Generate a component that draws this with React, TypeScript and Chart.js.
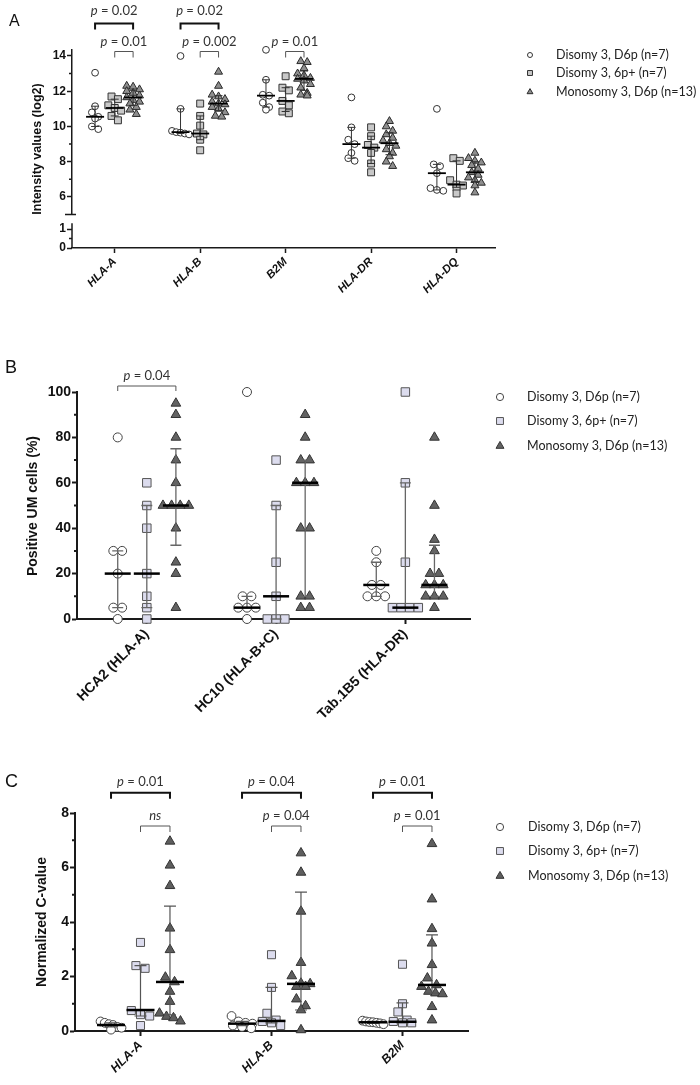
import React, { useEffect, useRef } from 'react';
import { Chart, registerables } from 'chart.js';

Chart.register(...registerables);

const LEGEND_LABELS = ['Disomy 3, D6p (n=7)', 'Disomy 3, 6p+ (n=7)', 'Monosomy 3, D6p (n=13)'];

// ---------------- Panel A : intensity values (log2) ----------------
const A_CATEGORIES = ['HLA-A', 'HLA-B', 'B2M', 'HLA-DR', 'HLA-DQ'];
const A_TICKS = [6, 8, 10, 12, 14];
const A_MINOR = [7, 9, 11, 13];
const A_LOW_TICKS = [0, 1];
const A_D6P = [
  [13.05, 11.15, 10.8, 10.55, 10.45, 10.0, 9.85],
  [14.0, 11.0, 9.75, 9.68, 9.65, 9.6, 9.55],
  [14.35, 12.65, 11.8, 11.75, 11.35, 11.1, 10.95],
  [11.65, 9.95, 9.25, 9.0, 8.5, 8.2, 8.05],
  [11.0, 7.85, 7.75, 7.35, 6.5, 6.4, 6.35],
];
const A_6PPLUS = [
  [11.7, 11.55, 11.2, 11.05, 10.9, 10.6, 10.35],
  [11.3, 10.6, 10.05, 9.6, 9.55, 9.25, 8.65],
  [12.85, 12.2, 12.05, 11.45, 11.2, 10.85, 10.75],
  [9.95, 9.45, 8.95, 8.8, 8.5, 7.9, 7.4],
  [8.2, 8.05, 6.95, 6.7, 6.65, 6.55, 6.2],
];
const A_MONO = [
  [12.3, 12.25, 12.1, 12.0, 11.9, 11.75, 11.65, 11.5, 11.4, 11.3, 11.1, 10.95, 10.7],
  [13.1, 12.3, 11.8, 11.7, 11.55, 11.4, 11.3, 11.25, 11.1, 11.0, 10.8, 10.6, 10.55],
  [13.7, 13.65, 13.3, 13.0, 12.9, 12.75, 12.7, 12.6, 12.4, 12.2, 11.9, 11.8, 11.75],
  [10.3, 10.0, 9.75, 9.55, 9.35, 9.2, 9.05, 8.9, 8.7, 8.5, 8.3, 8.0, 7.75],
  [8.5, 8.2, 8.05, 7.95, 7.8, 7.6, 7.4, 7.25, 7.1, 6.95, 6.8, 6.65, 6.25],
];
const A_PVALUES = [
  { category: 0, from: 0, to: 2, level: 0, label: 'p = 0.02' },
  { category: 0, from: 1, to: 2, level: 1, label: 'p = 0.01' },
  { category: 1, from: 0, to: 2, level: 0, label: 'p = 0.02' },
  { category: 1, from: 1, to: 2, level: 1, label: 'p = 0.002' },
  { category: 2, from: 1, to: 2, level: 1, label: 'p = 0.01' },
];

// ---------------- Panel B : positive UM cells (%) ----------------
const B_CATEGORIES = ['HCA2 (HLA-A)', 'HC10 (HLA-B+C)', 'Tab.1B5 (HLA-DR)'];
const B_TICKS = [0, 20, 40, 60, 80, 100];
const B_MINOR = [10, 30, 50, 70, 90];
const B_D6P = [
  [80, 30, 30, 20, 5, 5, 0],
  [100, 10, 10, 5, 5, 5, 0],
  [30, 25, 15, 15, 10, 10, 10],
];
const B_6PPLUS = [
  [60, 50, 40, 20, 10, 5, 0],
  [70, 50, 25, 10, 0, 0, 0],
  [100, 60, 25, 5, 5, 5, 5],
];
const B_MONO = [
  [95, 90, 80, 70, 60, 50, 50, 50, 50, 40, 25, 20, 5],
  [90, 80, 70, 70, 60, 60, 60, 40, 40, 10, 10, 5, 5],
  [80, 50, 35, 30, 20, 20, 15, 15, 15, 10, 10, 10, 5],
];
const B_PVALUES = [{ category: 0, from: 0, to: 2, level: 0, label: 'p = 0.04' }];

// ---------------- Panel C : normalized C-value ----------------
const C_CATEGORIES = ['HLA-A', 'HLA-B', 'B2M'];
const C_TICKS = [0, 2, 4, 6, 8];
const C_MINOR = [1, 3, 5, 7];
const C_D6P = [
  [0.35, 0.3, 0.25, 0.22, 0.15, 0.12, 0.05],
  [0.55, 0.35, 0.3, 0.27, 0.2, 0.15, 0.1],
  [0.38, 0.35, 0.33, 0.32, 0.3, 0.28, 0.25],
];
const C_6PPLUS = [
  [3.25, 2.4, 2.3, 0.75, 0.6, 0.55, 0.2],
  [2.8, 1.6, 0.65, 0.4, 0.35, 0.3, 0.2],
  [2.45, 1.0, 0.7, 0.4, 0.35, 0.3, 0.3],
];
const C_MONO = [
  [6.96, 6.08, 5.33, 3.77, 2.98, 1.97, 1.8, 1.45, 1.08, 0.65, 0.53, 0.48, 0.36],
  [6.53, 5.82, 4.39, 2.51, 2.02, 1.75, 1.73, 1.63, 1.63, 1.17, 0.92, 0.77, 0.04],
  [6.87, 4.84, 3.75, 3.22, 2.43, 1.94, 1.69, 1.63, 1.45, 1.39, 1.36, 0.89, 0.4],
];
// median and interquartile bars [series][category]
const C_MEDIAN = [[0.22, 0.27, 0.32], [0.77, 0.37, 0.34], [1.8, 1.73, 1.69]];
const C_Q1 = [[0.15, 0.2, 0.28], [0.55, 0.3, 0.3], [0.59, 0.77, 1.39]];
const C_Q3 = [[0.3, 0.35, 0.35], [2.4, 1.6, 1.03], [4.58, 5.1, 3.53]];
const C_PVALUES = [
  { category: 0, from: 0, to: 2, level: 0, label: 'p = 0.01' },
  { category: 0, from: 1, to: 2, level: 1, label: 'ns' },
  { category: 1, from: 0, to: 2, level: 0, label: 'p = 0.04' },
  { category: 1, from: 1, to: 2, level: 1, label: 'p = 0.04' },
  { category: 2, from: 0, to: 2, level: 0, label: 'p = 0.01' },
  { category: 2, from: 1, to: 2, level: 1, label: 'p = 0.01' },
];

const SANS = '"Liberation Sans", Arial, sans-serif';
const TEXT = 'Lato, "Open Sans", sans-serif';

function quartile(vals: number[], p: number) {
  const s = [...vals].sort((a, b) => a - b);
  const n = s.length;
  const pos = p * (n + 1);
  if (pos <= 1) return s[0];
  if (pos >= n) return s[n - 1];
  const lo = Math.floor(pos);
  return s[lo - 1] + (pos - lo) * (s[lo] - s[lo - 1]);
}

function summarize(series: number[][][]) {
  return {
    med: series.map((ser) => ser.map((v) => quartile(v, 0.5))),
    q1: series.map((ser) => ser.map((v) => quartile(v, 0.25))),
    q3: series.map((ser) => ser.map((v) => quartile(v, 0.75))),
  };
}

function swarmOffsets(vals: number[], tol: number, step: number, maxSpread: number) {
  const idx = vals.map((_, i) => i).sort((a, b) => vals[b] - vals[a]);
  const out = new Array(vals.length).fill(0);
  let row: number[] = [];
  const flush = () => {
    const m = row.length;
    const st = m > 1 ? Math.min(step, maxSpread / (m - 1)) : 0;
    row.forEach((id, j) => {
      out[id] = (j - (m - 1) / 2) * st;
    });
    row = [];
  };
  idx.forEach((id) => {
    if (row.length && Math.abs(vals[row[0]] - vals[id]) >= tol) flush();
    row.push(id);
  });
  flush();
  return out;
}

type Sym = { style: 'circle' | 'rect' | 'triangle'; r: number; bg: string; border: string; bw: number };

function drawSymbol(ctx: CanvasRenderingContext2D, st: Sym, x: number, y: number) {
  const r = st.r;
  ctx.save();
  ctx.beginPath();
  if (st.style === 'circle') {
    ctx.arc(x, y, r, 0, Math.PI * 2);
  } else if (st.style === 'rect') {
    const h = r * Math.SQRT1_2;
    ctx.rect(x - h, y - h, 2 * h, 2 * h);
  } else {
    let rad = 0;
    ctx.moveTo(x + Math.sin(rad) * r, y - Math.cos(rad) * r);
    rad += (2 * Math.PI) / 3;
    ctx.lineTo(x + Math.sin(rad) * r, y - Math.cos(rad) * r);
    rad += (2 * Math.PI) / 3;
    ctx.lineTo(x + Math.sin(rad) * r, y - Math.cos(rad) * r);
    ctx.closePath();
  }
  ctx.fillStyle = st.bg;
  ctx.fill();
  ctx.lineWidth = st.bw;
  ctx.strokeStyle = st.border;
  ctx.stroke();
  ctx.restore();
}

function drawPLabel(ctx: CanvasRenderingContext2D, label: string, cx: number, baseline: number, size: number) {
  ctx.save();
  ctx.fillStyle = '#333';
  ctx.textBaseline = 'alphabetic';
  const italic = `italic ${size}px ${TEXT}`;
  const normal = `${size}px ${TEXT}`;
  if (label.startsWith('p ')) {
    const head = 'p';
    const tail = label.slice(1);
    ctx.font = italic;
    const w1 = ctx.measureText(head).width;
    ctx.font = normal;
    const w2 = ctx.measureText(tail).width;
    const x = cx - (w1 + w2) / 2;
    ctx.textAlign = 'left';
    ctx.font = italic;
    ctx.fillText(head, x, baseline);
    ctx.font = normal;
    ctx.fillText(tail, x + w1, baseline);
  } else {
    ctx.font = italic;
    ctx.textAlign = 'center';
    ctx.fillText(label, cx, baseline);
  }
  ctx.restore();
}

type PanelDef = any;

const PANEL_A: PanelDef = {
  top: 0,
  height: 320,
  letter: 'A',
  letterFont: `16px ${SANS}`,
  letterPos: [9, 26],
  categories: A_CATEGORIES,
  series: [A_D6P, A_6PPLUS, A_MONO],
  summary: summarize([A_D6P, A_6PPLUS, A_MONO]),
  xRange: [-0.5, 4.45],
  yRange: [5, 14.34],
  yTicks: A_TICKS,
  yMinor: A_MINOR,
  low: { range: [0, 1.76], ticks: A_LOW_TICKS, minor: [0.5], segTop: 1.3, weightUp: 164.6, weightLow: 33.4 },
  area: { left: 72, right: 495, top: 50, bottom: 248 },
  axisWidth: 1.5,
  seriesOffset: [-0.23, 0, 0.215],
  symbols: [
    { style: 'circle', r: 3.4, bg: '#ffffff', border: '#333333', bw: 1 },
    { style: 'rect', r: 4.9, bg: '#c8c8c8', border: '#333333', bw: 1 },
    { style: 'triangle', r: 4.6, bg: '#8e8e8e', border: '#2a2a2a', bw: 1 },
  ],
  legendSymbols: [
    { style: 'circle', r: 2.5, bg: '#ffffff', border: '#333333', bw: 1 },
    { style: 'rect', r: 3.5, bg: '#c8c8c8', border: '#333333', bw: 1 },
    { style: 'triangle', r: 3.4, bg: '#8e8e8e', border: '#2a2a2a', bw: 1 },
  ],
  swarm: { tol: 0.3, step: 0.075, maxSpread: 0.2 },
  whisker: { color: '#333', width: 1, cap: 4, median: 9, medianWidth: 1.8 },
  tickFont: { family: SANS, size: 12, weight: 'bold' },
  xTickFont: { family: SANS, size: 11.5, weight: 'bold', style: 'italic' },
  yTitle: 'Intensity values (log2)',
  yTitleFont: `bold 12.5px ${SANS}`,
  yTitlePos: [38, 149],
  brackets: A_PVALUES,
  bracketY: [23.5, 51.5],
  bracketStrong: [true, false],
  bracketLeg: 6,
  pGap: [8.5, 5.5],
  pFontSize: 13,
  legend: { symX: 530, textX: 556, rows: [55, 73, 92], size: 12.5 },
};

const PANEL_B: PanelDef = {
  top: 320,
  height: 420,
  letter: 'B',
  letterFont: `18px ${SANS}`,
  letterPos: [5, 53],
  categories: B_CATEGORIES,
  series: [B_D6P, B_6PPLUS, B_MONO],
  summary: summarize([B_D6P, B_6PPLUS, B_MONO]),
  xRange: [-0.54, 2.5],
  yRange: [0, 100],
  yTicks: B_TICKS,
  yMinor: B_MINOR,
  area: { left: 77, right: 470, top: 72, bottom: 299 },
  axisWidth: 2,
  seriesOffset: [-0.225, 0, 0.225],
  symbols: [
    { style: 'circle', r: 4.5, bg: '#ffffff', border: '#444444', bw: 1 },
    { style: 'rect', r: 6, bg: '#dcdcee', border: '#555555', bw: 1 },
    { style: 'triangle', r: 5.6, bg: '#636363', border: '#333333', bw: 1 },
  ],
  legendSymbols: [
    { style: 'circle', r: 3.6, bg: '#ffffff', border: '#444444', bw: 1 },
    { style: 'rect', r: 4.9, bg: '#dcdcee', border: '#555555', bw: 1 },
    { style: 'triangle', r: 4.6, bg: '#636363', border: '#333333', bw: 1 },
  ],
  swarm: { tol: 4, step: 0.068, maxSpread: 0.2 },
  whisker: { color: '#666', width: 1.3, cap: 5.5, median: 13, medianWidth: 2.5 },
  tickFont: { family: SANS, size: 14, weight: 'bold' },
  xTickFont: { family: SANS, size: 14, weight: 'bold' },
  yTitle: 'Positive UM cells (%)',
  yTitleFont: `bold 14px ${SANS}`,
  yTitlePos: [33, 186],
  brackets: B_PVALUES,
  bracketY: [66],
  bracketStrong: [false],
  bracketLeg: 5,
  pGap: [6.5],
  pFontSize: 13,
  legend: { symX: 500, textX: 527, rows: [77, 101, 126], size: 12.5 },
};

const PANEL_C: PanelDef = {
  top: 690,
  height: 395,
  letter: 'C',
  letterFont: `18px ${SANS}`,
  letterPos: [5, 97],
  categories: C_CATEGORIES,
  series: [C_D6P, C_6PPLUS, C_MONO],
  summary: { med: C_MEDIAN, q1: C_Q1, q3: C_Q3 },
  xRange: [-0.5, 2.5],
  yRange: [0, 8],
  yTicks: C_TICKS,
  yMinor: C_MINOR,
  area: { left: 75, right: 468, top: 123, bottom: 341 },
  axisWidth: 2,
  seriesOffset: [-0.225, 0, 0.225],
  symbols: [
    { style: 'circle', r: 4.4, bg: '#ffffff', border: '#444444', bw: 1 },
    { style: 'rect', r: 5.7, bg: '#dcdcee', border: '#555555', bw: 1 },
    { style: 'triangle', r: 5.6, bg: '#5e5e5e', border: '#333333', bw: 1 },
  ],
  legendSymbols: [
    { style: 'circle', r: 3.6, bg: '#ffffff', border: '#444444', bw: 1 },
    { style: 'rect', r: 4.9, bg: '#dcdcee', border: '#555555', bw: 1 },
    { style: 'triangle', r: 4.6, bg: '#5e5e5e', border: '#333333', bw: 1 },
  ],
  swarm: { tol: 0.3, step: 0.07, maxSpread: 0.16 },
  whisker: { color: '#555', width: 1.2, cap: 6, median: 14, medianWidth: 2.5 },
  tickFont: { family: SANS, size: 14, weight: 'bold' },
  xTickFont: { family: SANS, size: 12.5, weight: 'bold', style: 'italic' },
  yTitle: 'Normalized C-value',
  yTitleFont: `bold 14px ${SANS}`,
  yTitlePos: [42, 232],
  brackets: C_PVALUES,
  bracketY: [102.7, 136],
  bracketStrong: [true, false],
  bracketLeg: 6,
  pGap: [7, 6],
  pFontSize: 13,
  legend: { symX: 500, textX: 528, rows: [137, 161, 186], size: 12.5 },
};

function decoPlugin(def: PanelDef) {
  return {
    id: 'deco',
    afterDatasetsDraw(chart: any) {
      const ctx = chart.ctx as CanvasRenderingContext2D;
      const xs = chart.scales.x;
      const ys = chart.scales.y;
      const w = def.whisker;
      ctx.save();
      def.series.forEach((ser: number[][], s: number) =>
        ser.forEach((_, c) => {
          const x = xs.getPixelForValue(c + def.seriesOffset[s]);
          const y1 = ys.getPixelForValue(def.summary.q1[s][c]);
          const y3 = ys.getPixelForValue(def.summary.q3[s][c]);
          const ym = ys.getPixelForValue(def.summary.med[s][c]);
          ctx.strokeStyle = w.color;
          ctx.lineWidth = w.width;
          ctx.beginPath();
          ctx.moveTo(x, y3);
          ctx.lineTo(x, y1);
          ctx.moveTo(x - w.cap, y3);
          ctx.lineTo(x + w.cap, y3);
          ctx.moveTo(x - w.cap, y1);
          ctx.lineTo(x + w.cap, y1);
          ctx.stroke();
          ctx.strokeStyle = '#000';
          ctx.lineWidth = w.medianWidth;
          ctx.beginPath();
          ctx.moveTo(x - w.median, ym);
          ctx.lineTo(x + w.median, ym);
          ctx.stroke();
        })
      );
      ctx.restore();
    },
    afterDraw(chart: any) {
      const ctx = chart.ctx as CanvasRenderingContext2D;
      const xs = chart.scales.x;
      const ys = chart.scales.y;
      const left = chart.chartArea.left;
      ctx.save();
      ctx.strokeStyle = '#1a1a1a';
      ctx.lineWidth = def.axisWidth;
      ctx.beginPath();
      def.yMinor.forEach((v: number) => {
        const y = ys.getPixelForValue(v);
        ctx.moveTo(left - 3, y);
        ctx.lineTo(left, y);
      });
      if (def.low) {
        const yl = chart.scales.yLow;
        def.low.minor.forEach((v: number) => {
          const y = yl.getPixelForValue(v);
          ctx.moveTo(left - 3, y);
          ctx.lineTo(left, y);
        });
        ctx.moveTo(left, yl.getPixelForValue(def.low.segTop));
        ctx.lineTo(left, yl.getPixelForValue(0));
        const yb = ys.getPixelForValue(def.yRange[0]);
        ctx.moveTo(left - 7, yb);
        ctx.lineTo(left + 4, yb);
      }
      ctx.stroke();
      ctx.restore();

      def.brackets.forEach((b: any) => {
        const x1 = xs.getPixelForValue(b.category + def.seriesOffset[b.from]);
        const x2 = xs.getPixelForValue(b.category + def.seriesOffset[b.to]);
        const y = def.bracketY[b.level];
        const strong = def.bracketStrong[b.level];
        ctx.save();
        ctx.strokeStyle = strong ? '#111' : '#555';
        ctx.lineWidth = strong ? 2 : 1;
        ctx.beginPath();
        ctx.moveTo(x1, y + def.bracketLeg);
        ctx.lineTo(x1, y);
        ctx.lineTo(x2, y);
        ctx.lineTo(x2, y + def.bracketLeg);
        ctx.stroke();
        ctx.restore();
        drawPLabel(ctx, b.label, (x1 + x2) / 2, y - def.pGap[b.level], def.pFontSize);
      });

      ctx.save();
      LEGEND_LABELS.forEach((label, s) => {
        const y = def.legend.rows[s];
        drawSymbol(ctx, def.legendSymbols[s], def.legend.symX, y);
        ctx.font = `${def.legend.size}px ${TEXT}`;
        ctx.fillStyle = '#222';
        ctx.textAlign = 'left';
        ctx.textBaseline = 'middle';
        ctx.fillText(label, def.legend.textX, y);
      });
      ctx.restore();

      ctx.save();
      ctx.translate(def.yTitlePos[0], def.yTitlePos[1]);
      ctx.rotate(-Math.PI / 2);
      ctx.font = def.yTitleFont;
      ctx.fillStyle = '#111';
      ctx.textAlign = 'center';
      ctx.textBaseline = 'middle';
      ctx.fillText(def.yTitle, 0, 0);
      ctx.restore();

      ctx.save();
      ctx.font = def.letterFont;
      ctx.fillStyle = '#111';
      ctx.textAlign = 'left';
      ctx.textBaseline = 'alphabetic';
      ctx.fillText(def.letter, def.letterPos[0], def.letterPos[1]);
      ctx.restore();
    },
  };
}

function buildConfig(def: PanelDef): any {
  const a = def.area;
  const xAxisH = def.height - a.bottom;
  const datasets = def.series.map((ser: number[][], s: number) => {
    const st = def.symbols[s];
    const data: { x: number; y: number }[] = [];
    ser.forEach((vals, c) => {
      const offs = swarmOffsets(vals, def.swarm.tol, def.swarm.step, def.swarm.maxSpread);
      vals.forEach((v, i) => data.push({ x: c + def.seriesOffset[s] + offs[i], y: v }));
    });
    return {
      label: LEGEND_LABELS[s],
      data,
      xAxisID: 'x',
      yAxisID: 'y',
      pointStyle: st.style,
      pointRadius: st.r,
      pointHoverRadius: st.r,
      pointBackgroundColor: st.bg,
      pointBorderColor: st.border,
      pointBorderWidth: st.bw,
      clip: false,
    };
  });

  const axisColor = '#1a1a1a';
  const yCommon = (width: number) => ({
    type: 'linear',
    position: 'left',
    afterFit: (s: any) => {
      s.width = width;
    },
    ticks: { font: def.tickFont, color: '#111', padding: 1 },
    grid: {
      display: true,
      drawOnChartArea: false,
      drawTicks: true,
      tickLength: 5,
      color: axisColor,
      tickColor: axisColor,
      tickWidth: def.axisWidth,
    },
  });

  const scales: any = {
    x: {
      type: 'linear',
      position: 'bottom',
      min: def.xRange[0],
      max: def.xRange[1],
      afterBuildTicks: (s: any) => {
        s.ticks = def.categories.map((_: string, i: number) => ({ value: i }));
      },
      afterFit: (s: any) => {
        s.height = xAxisH;
      },
      ticks: {
        autoSkip: false,
        minRotation: 45,
        maxRotation: 45,
        padding: 2,
        font: def.xTickFont,
        color: '#111',
        callback: (v: number) => def.categories[Math.round(v)],
      },
      grid: {
        display: true,
        drawOnChartArea: false,
        drawTicks: true,
        tickLength: 5,
        color: axisColor,
        tickColor: axisColor,
        tickWidth: def.axisWidth,
      },
      border: { display: true, color: axisColor, width: def.axisWidth },
    },
  };

  if (def.low) {
    scales.yLow = {
      ...yCommon(a.left),
      stack: 'ystack',
      stackWeight: def.low.weightLow,
      min: def.low.range[0],
      max: def.low.range[1],
      afterBuildTicks: (s: any) => {
        s.ticks = def.low.ticks.map((v: number) => ({ value: v }));
      },
      border: { display: false },
    };
  }
  scales.y = {
    ...yCommon(a.left),
    min: def.yRange[0],
    max: def.yRange[1],
    afterBuildTicks: (s: any) => {
      s.ticks = def.yTicks.map((v: number) => ({ value: v }));
    },
    border: { display: true, color: axisColor, width: def.axisWidth },
  };
  if (def.low) {
    scales.y.stack = 'ystack';
    scales.y.stackWeight = def.low.weightUp;
  }

  return {
    type: 'scatter',
    data: { datasets },
    options: {
      responsive: false,
      animation: false,
      events: [],
      layout: {
        autoPadding: false,
        padding: { left: 0, top: a.top, right: 700 - a.right, bottom: 0 },
      },
      plugins: { legend: { display: false }, tooltip: { enabled: false }, title: { display: false } },
      scales,
    },
    plugins: [decoPlugin(def)],
  };
}

function Panel({ def }: { def: PanelDef }) {
  const ref = useRef<HTMLCanvasElement>(null);
  useEffect(() => {
    const canvas = ref.current;
    if (!canvas) return;
    const chart = new Chart(canvas, buildConfig(def));
    return () => chart.destroy();
  }, [def]);
  return (
    <canvas
      ref={ref}
      width={700}
      height={def.height}
      style={{ position: 'absolute', left: 0, top: def.top, width: 700, height: def.height, display: 'block' }}
    />
  );
}

export default function App() {
  return (
    <div style={{ position: 'absolute', left: 0, top: 0, width: 700, height: 1085, background: '#ffffff', overflow: 'hidden' }}>
      <Panel def={PANEL_A} />
      <Panel def={PANEL_B} />
      <Panel def={PANEL_C} />
    </div>
  );
}
